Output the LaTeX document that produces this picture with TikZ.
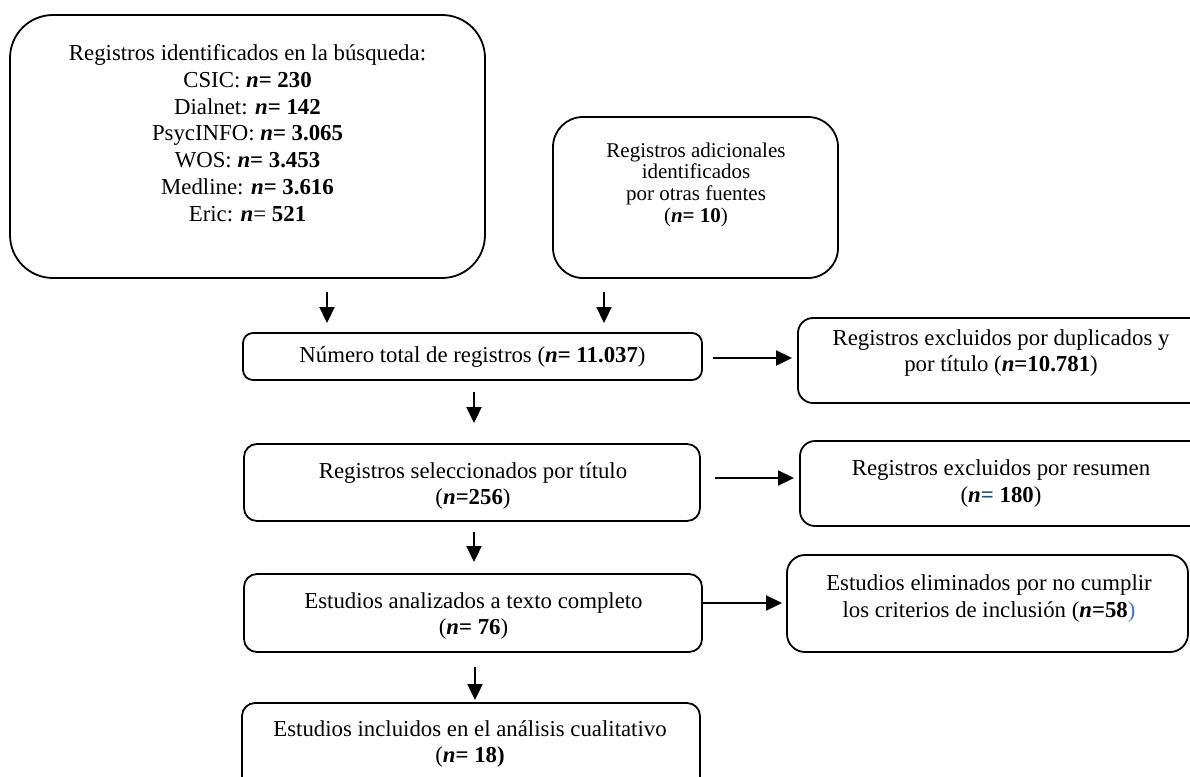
\documentclass[tikz,border=0pt]{standalone}
\usepackage{fontspec}
\setmainfont{Liberation Serif}
\usetikzlibrary{arrows.meta}
\definecolor{eqblue}{HTML}{1F4E79}
\definecolor{parblue}{HTML}{4472C4}
\newcommand{\nn}{\textbf{\textit{n}}}
\begin{document}
\begin{tikzpicture}[x=1pt,y=-1pt,
  box/.style={draw, line width=1.8pt, inner sep=0pt, outer sep=0pt},
  txt/.style={align=center, inner sep=0pt, font=\fontsize{22.8}{26.8}\selectfont},
  smalltxt/.style={align=center, inner sep=0pt, font=\fontsize{21}{21.7}\selectfont},
  arr/.style={-{Triangle[length=16pt,width=15pt]}, line width=2.3pt}]
\useasboundingbox (0,0) rectangle (1190,776);
% boxes
\node (b1) [box, rounded corners=43pt, minimum width=475pt, minimum height=263pt] at (247.5,146.5) {};
\node (b2) [box, rounded corners=30pt, minimum width=285pt, minimum height=161pt] at (695.5,197.5) {};
\node (b3) [box, rounded corners=10pt, minimum width=459pt, minimum height=47pt] at (472.5,356.5) {};
\node (b4) [box, rounded corners=15pt, minimum width=407pt, minimum height=85pt] at (1001.5,360.5) {};
\node (b5) [box, rounded corners=13pt, minimum width=456pt, minimum height=77pt] at (472,482.5) {};
\node (b6) [box, rounded corners=15pt, minimum width=405pt, minimum height=85pt] at (1002.5,483.5) {};
\node (b7) [box, rounded corners=13pt, minimum width=458pt, minimum height=78pt] at (473,613) {};
\node (b8) [box, rounded corners=18pt, minimum width=401pt, minimum height=97pt] at (987.5,603.5) {};
\node (b9) [box, rounded corners=13pt, minimum width=458pt, minimum height=89pt] at (471,747.5) {};
% texts
\node (t1) [txt] at (247.5,133) {Registros identificados en la búsqueda:\\ CSIC: \nn\textbf{= 230}\\ Dialnet: \nn\textbf{= 142}\\ PsycINFO: \nn\textbf{= 3.065}\\ WOS: \nn\textbf{= 3.453}\\ Medline: \nn\textbf{= 3.616}\\ Eric: \nn= \textbf{521}};
\node (t2) [smalltxt] at (696,184.5) {Registros adicionales\\ identificados\\ por otras fuentes\\ (\nn\textbf{= 10})};
\node (t3) [txt] at (472.5,357) {Número total de registros (\nn\textbf{= 11.037})};
\node (t4) [txt] at (1001,353) {Registros excluidos por duplicados y\\ por título (\nn\textbf{=10.781})};
\node (t5) [txt] at (473,486) {Registros seleccionados por título\\ (\nn\textbf{=256})};
\node (t6) [txt] at (1001,483.5) {Registros excluidos por resumen\\ (\nn\textcolor{eqblue}{\textbf{= }}\textbf{180})};
\node (t7) [txt] at (473.5,616) {Estudios analizados a texto completo\\ (\nn\textbf{= 76})};
\node (t8) [txt] at (989,598.5) {Estudios eliminados por no cumplir\\ los criterios de inclusión (\nn\textbf{=58}\textcolor{parblue}{)}};
\node (t9) [txt] at (470,744) {Estudios incluidos en el análisis cualitativo\\ (\nn\textbf{= 18)}};
% arrows
\draw[arr, shorten <=14pt, shorten >=10pt] ([xshift=79.5pt]b1.south) -- ([xshift=79.5pt]b1.south |- b3.north);
\draw[arr, shorten <=14pt, shorten >=10pt] ([xshift=-91.5pt]b2.south) -- ([xshift=-91.5pt]b2.south |- b3.north);
\draw[arr, shorten <=12pt, shorten >=21pt] ([xshift=1.5pt]b3.south) -- ([xshift=1.5pt]b3.south |- b5.north);
\draw[arr, shorten <=11pt, shorten >=12pt] ([xshift=2pt]b5.south) -- ([xshift=2pt]b5.south |- b7.north);
\draw[arr, shorten <=15pt, shorten >=3pt] ([xshift=2pt]b7.south) -- ([xshift=2pt]b7.south |- b9.north);
\draw[arr, shorten <=11pt, shorten >=6pt] ([yshift=-1.5pt]b3.east) -- ([yshift=-1.5pt]b3.east -| b4.west);
\draw[arr, shorten <=15pt, shorten >=6pt] ([yshift=4.5pt]b5.east) -- ([yshift=4.5pt]b5.east -| b6.west);
\draw[arr, shorten >=5pt] ([yshift=10pt]b7.east) -- ([yshift=10pt]b7.east -| b8.west);
\end{tikzpicture}
\end{document}
